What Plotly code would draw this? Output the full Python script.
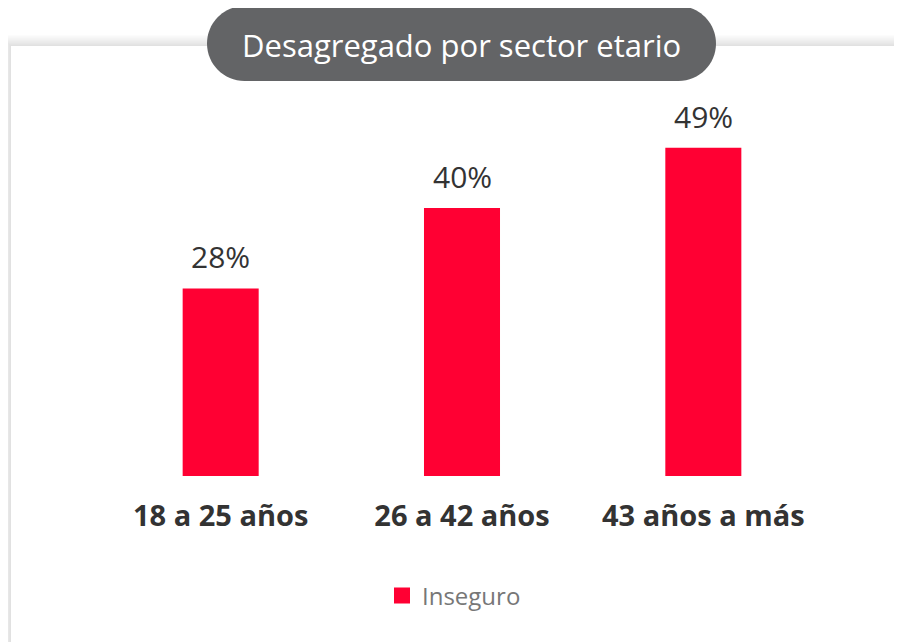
import plotly.graph_objects as go

categories = ["18 a 25 años", "26 a 42 años", "43 años a más"]
values = [28, 40, 49]
series_name = "Inseguro"
title_text = "Desagregado por sector etario"

OFF = 8  # page body margin
W, H = 902 - OFF, 642 - OFF
ML, MR, MT, MB = 100 - OFF, 78, 100 - OFF, 166
PW, PH = W - ML - MR, H - MT - MB
FONT = "Open Sans"

def px(x):
    return (x - OFF - ML) / PW

def py(y):
    return (H - MB - (y - OFF)) / PH

fig = go.Figure()
fig.add_trace(go.Bar(
    x=categories, y=values, name=series_name,
    marker=dict(color="#ff0033", line=dict(width=0)),
    showlegend=False,
))
fig.add_trace(go.Scatter(
    x=[None], y=[None], mode="markers", name=series_name,
    marker=dict(symbol="square", size=16, color="#ff0033"),
    showlegend=True,
))

shapes = []
# card shadow (layered, soft)
n = 10
for i in range(n):
    d = 11 - i * 1.1
    shapes.append(dict(type="rect", xref="paper", yref="paper",
                       x0=px(11 - d), x1=px(W + 60), y0=py(46 - d), y1=py(H + 60),
                       fillcolor="rgba(0,0,0,0.012)", line=dict(width=0), layer="below"))
shapes.append(dict(type="rect", xref="paper", yref="paper",
                   x0=px(11), x1=px(W + 60), y0=py(46), y1=py(H + 60),
                   fillcolor="white", line=dict(width=0), layer="below"))

# title pill
x0, x1, y0, y1 = 207, 716, 6, 81
r = (y1 - y0) / 2
k = 0.5523 * r
pts = [
    ("M", (x0 + r, y0)),
    ("L", (x1 - r, y0)),
    ("C", (x1 - r + k, y0), (x1, y0 + r - k), (x1, y0 + r)),
    ("C", (x1, y0 + r + k), (x1 - r + k, y1), (x1 - r, y1)),
    ("L", (x0 + r, y1)),
    ("C", (x0 + r - k, y1), (x0, y0 + r + k), (x0, y0 + r)),
    ("C", (x0, y0 + r - k), (x0 + r - k, y0), (x0 + r, y0)),
]
path = ""
for seg in pts:
    cmd = seg[0]
    coords = " ".join(f"{px(a):.5f},{py(b):.5f}" for a, b in seg[1:])
    path += f"{cmd}{coords} "
path += "Z"
shapes.append(dict(type="path", xref="paper", yref="paper", path=path,
                   fillcolor="#636466", line=dict(width=0), layer="above"))

annotations = [dict(
    text=title_text, xref="paper", yref="paper",
    x=px((x0 + x1) / 2), y=py((y0 + y1) / 2 + 1), xanchor="center", yanchor="middle",
    showarrow=False, font=dict(family=FONT, size=31, color="white"),
)]
for c, v in zip(categories, values):
    annotations.append(dict(
        text=f"{v}%", x=c, y=v, xref="x", yref="y",
        xanchor="center", yanchor="bottom", yshift=9, showarrow=False,
        font=dict(family=FONT, size=30, color="#333333"),
    ))

fig.update_layout(
    width=W, height=H,
    margin=dict(l=ML, r=MR, t=MT, b=MB),
    paper_bgcolor="white", plot_bgcolor="rgba(0,0,0,0)",
    bargap=0.685,
    shapes=shapes, annotations=annotations,
    xaxis=dict(showgrid=False, zeroline=False, showline=False, ticks="",
               tickfont=dict(family=FONT, size=29, color="#333333", weight="bold"),
               ticklabelstandoff=20),
    yaxis=dict(range=[0, PH / 6.7], visible=False, fixedrange=True),
    legend=dict(orientation="h", x=px(454), y=py(596), xanchor="center", yanchor="middle",
                font=dict(family=FONT, size=24, color="#777777"),
                bgcolor="rgba(0,0,0,0)", itemwidth=30),
    showlegend=True,
)

fig.write_html("out.html")
